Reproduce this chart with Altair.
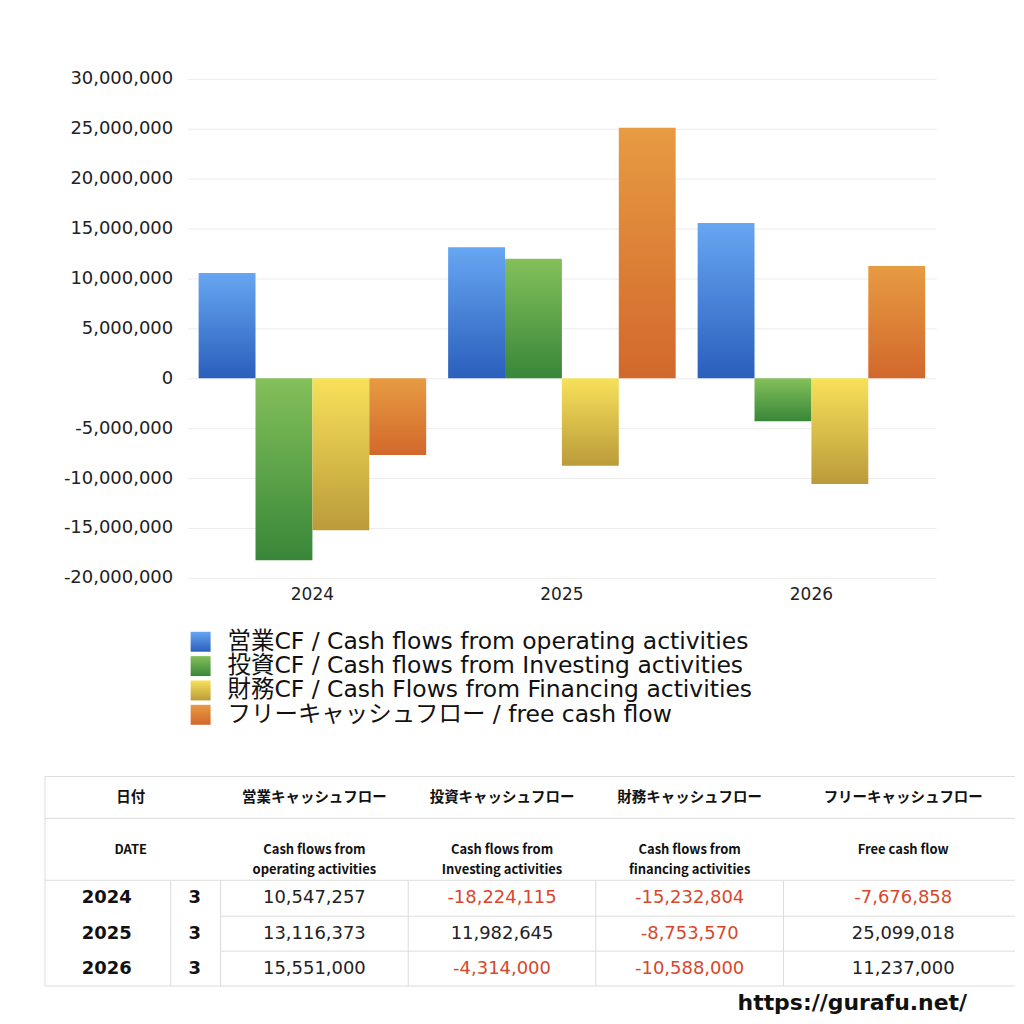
import altair as alt
import pandas as pd

# ---------------- data ----------------
years = ["2024", "2025", "2026"]
months = ["3", "3", "3"]
operating = [10547257, 13116373, 15551000]
investing = [-18224115, 11982645, -4314000]
financing = [-15232804, -8753570, -10588000]
free_cf = [-7676858, 25099018, 11237000]

series_keys = ["op", "inv", "fin", "free"]
legend_labels = [
    "営業CF / Cash flows from operating activities",
    "投資CF / Cash flows from Investing activities",
    "財務CF / Cash Flows from Financing activities",
    "フリーキャッシュフロー / free cash flow",
]
header_jp = ["日付", "営業キャッシュフロー", "投資キャッシュフロー", "財務キャッシュフロー", "フリーキャッシュフロー"]
header_en = ["DATE", "Cash flows from\noperating activities", "Cash flows from\nInvesting activities",
             "Cash flows from\nfinancing activities", "Free cash flow"]
y_ticks = [-20000000, -15000000, -10000000, -5000000, 0, 5000000, 10000000, 15000000, 20000000, 25000000, 30000000]
url_text = "https://gurafu.net/"

# ---------------- styling ----------------
FONT = "DejaVu Sans, Noto Sans CJK JP"
CJK_FONT = "Noto Sans CJK JP"
grad_top = ["#67a6f2", "#84c05a", "#f7e15a", "#e79b42"]
grad_bottom = ["#2a5fbc", "#388739", "#bb9b3a", "#d2682c"]
NEG_COLOR = "#d8472b"
LINE_COLOR = "#dcdcdc"


def grad(i):
    return {
        "gradient": "linear", "x1": 0, "x2": 0, "y1": 0, "y2": 1,
        "stops": [{"offset": 0, "color": grad_top[i]}, {"offset": 1, "color": grad_bottom[i]}],
    }


# ---------------- bar chart ----------------
series_values = [operating, investing, financing, free_cf]
rows = []
for i, yr in enumerate(years):
    for k, vals in zip(series_keys, series_values):
        rows.append({"year": yr, "series": k, "value": vals[i]})
bars_df = pd.DataFrame(rows)

x_enc = alt.X("year:N", sort=years,
              scale=alt.Scale(domain=years, paddingInner=0.088, paddingOuter=0.044),
              axis=alt.Axis(title=None, labelAngle=0, labelFontSize=17, labelPadding=9,
                            domain=False, ticks=False, labelColor="#222222", grid=False))
xo_enc = alt.XOffset("series:N", sort=series_keys,
                     scale=alt.Scale(domain=series_keys, paddingInner=0, paddingOuter=0))
y_enc = alt.Y("value:Q", scale=alt.Scale(domain=[-20000000, 30000000], nice=False),
              axis=alt.Axis(title=None, values=y_ticks, labelFontSize=18, labelPadding=15,
                            labelExpr="replace(format(datum.value, ','), '\u2212', '-')",
                            ticks=False, domain=False, gridColor="#ececec", labelColor="#222222",
                            minExtent=143))

bar_layers = []
for i, k in enumerate(series_keys):
    bar_layers.append(
        alt.Chart(bars_df).transform_filter(alt.datum.series == k)
        .mark_bar(color=grad(i))
        .encode(x=x_enc, xOffset=xo_enc, y=y_enc)
    )
bar_chart = alt.layer(*bar_layers).properties(width=750, height=500)

# ---------------- lower panel: legend + table + url ----------------
# the panel's origin lines up with the plot's left edge (x = 187); the table reaches further left
P_X0, P_X1 = 187, 1016
P_Y0, P_Y1 = 620, 1014
xs = alt.Scale(domain=[P_X0, P_X1], nice=False, zero=False)
ys = alt.Scale(domain=[P_Y0, P_Y1], nice=False, zero=False, reverse=True)

# legend layout
LEG_X0, LEG_SIZE, LEG_TEXT_X = 190, 20, 227
LEG_Y0, LEG_DY = 641, 24.4
leg_df = pd.DataFrame({
    "series": series_keys,
    "label": legend_labels,
    "yc": [LEG_Y0 + i * LEG_DY for i in range(4)],
})
leg_df["yt"] = leg_df["yc"] - LEG_SIZE / 2
leg_df["yb"] = leg_df["yc"] + LEG_SIZE / 2
leg_df["xl"] = LEG_X0
leg_df["xr"] = LEG_X0 + LEG_SIZE
leg_df["xt"] = LEG_TEXT_X

X = lambda f: alt.X(f, type="quantitative", scale=xs, axis=None)
Y = lambda f: alt.Y(f, type="quantitative", scale=ys, axis=None)

lower_layers = []
for i, k in enumerate(series_keys):
    lower_layers.append(
        alt.Chart(leg_df).transform_filter(alt.datum.series == k)
        .mark_rect(color=grad(i))
        .encode(x=X("xl"), x2="xr", y=Y("yt"), y2="yb")
    )
lower_layers.append(
    alt.Chart(leg_df).mark_text(align="left", baseline="middle", fontSize=23.5, color="#111111")
    .encode(x=X("xt"), y=Y("yc"), text="label:N")
)

# table layout
COL_EDGES = [44, 170, 220, 408, 596, 784, 1016]
COL_CENTERS_VAL = [314, 502, 690, 904]
HDR_Y = [776, 818, 880]
ROW_EDGES = [880, 916, 951, 986]
hdr_x = [130] + COL_CENTERS_VAL
YEAR_X, MONTH_X = 106, 194

lines = []
for yy in [HDR_Y[0], HDR_Y[1], HDR_Y[2], ROW_EDGES[-1]]:
    lines.append({"x": COL_EDGES[0], "x2": COL_EDGES[-1], "y": yy, "y2": yy})
for yy in ROW_EDGES[1:-1]:
    lines.append({"x": COL_EDGES[2], "x2": COL_EDGES[-1], "y": yy, "y2": yy})
lines.append({"x": COL_EDGES[0], "x2": COL_EDGES[0], "y": HDR_Y[0], "y2": ROW_EDGES[-1]})
for xx in COL_EDGES[1:-1]:
    lines.append({"x": xx, "x2": xx, "y": ROW_EDGES[0], "y2": ROW_EDGES[-1]})
lines_df = pd.DataFrame(lines)
lower_layers.append(
    alt.Chart(lines_df).mark_rule(color=LINE_COLOR, strokeWidth=1)
    .encode(x=X("x"), x2="x2", y=Y("y"), y2="y2")
)

hdr1_df = pd.DataFrame({"x": hdr_x, "y": [798] * 5, "t": header_jp})
hdr2_df = pd.DataFrame({"x": hdr_x, "y": [850] * 5, "t": header_en})
lower_layers.append(
    alt.Chart(hdr1_df).mark_text(fontSize=14.5, fontWeight="bold", color="#111111", baseline="middle",
                                 font=CJK_FONT)
    .encode(x=X("x"), y=Y("y"), text="t:N")
)
lower_layers.append(
    alt.Chart(hdr2_df).mark_text(fontSize=13, fontWeight="bold", color="#111111", baseline="middle",
                                 lineBreak="\n", lineHeight=20, font=CJK_FONT)
    .encode(x=X("x"), y=Y("y"), text="t:N")
)

row_y = [(ROW_EDGES[i] + ROW_EDGES[i + 1]) / 2 for i in range(3)]
bold_cells = []
for i in range(3):
    bold_cells.append({"x": YEAR_X, "y": row_y[i], "t": years[i]})
    bold_cells.append({"x": MONTH_X, "y": row_y[i], "t": months[i]})
bold_df = pd.DataFrame(bold_cells)
lower_layers.append(
    alt.Chart(bold_df).mark_text(fontSize=18, fontWeight="bold", color="#111111", baseline="middle")
    .encode(x=X("x"), y=Y("y"), text="t:N")
)

val_cells = []
for i in range(3):
    for j, vals in enumerate(series_values):
        v = vals[i]
        val_cells.append({"x": COL_CENTERS_VAL[j], "y": row_y[i], "t": f"{v:,}",
                          "c": NEG_COLOR if v < 0 else "#222222"})
val_df = pd.DataFrame(val_cells)
lower_layers.append(
    alt.Chart(val_df).mark_text(fontSize=18, baseline="middle")
    .encode(x=X("x"), y=Y("y"), text="t:N", color=alt.Color("c:N", scale=None))
)

url_df = pd.DataFrame({"x": [853], "y": [1003], "t": [url_text]})
lower_layers.append(
    alt.Chart(url_df).mark_text(fontSize=22, fontWeight="bold", color="#111111", baseline="middle")
    .encode(x=X("x"), y=Y("y"), text="t:N")
)

lower = alt.layer(*lower_layers).properties(width=P_X1 - P_X0, height=P_Y1 - P_Y0)

chart = (
    alt.vconcat(bar_chart, lower, spacing=18)
    .properties(padding={"left": 36, "top": 61, "right": 0, "bottom": 0})
    .configure(font=FONT)
    .configure_view(stroke=None)
)

chart.save("out.html", embed_options={"renderer": "svg", "actions": False})
